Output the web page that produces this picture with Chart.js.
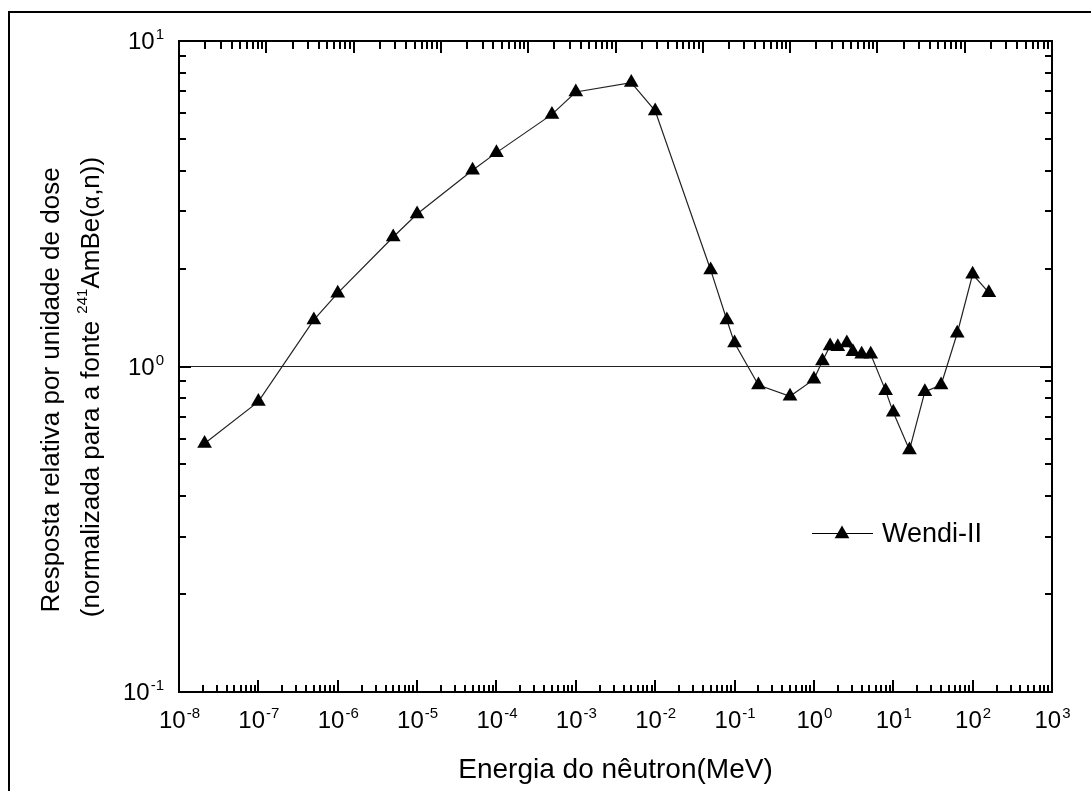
<!DOCTYPE html>
<html>
<head>
<meta charset="utf-8">
<script src="https://cdn.jsdelivr.net/npm/chart.js@4.4.1/dist/chart.umd.min.js"></script>
<style>
  html, body { margin: 0; padding: 0; background: #fff; overflow: hidden; }
  #wrap { width: 1091px; height: 791px; }
</style>
</head>
<body>
<div id="wrap"><canvas id="chart" width="1091" height="791"></canvas></div>
<script>
// neutron energy (MeV) and relative response per unit dose
const energy = [2.1e-8, 1e-7, 5e-7, 1e-6, 5e-6, 1e-5, 5e-5, 1e-4, 5e-4, 1e-3, 5e-3, 1e-2,
  5e-2, 8e-2, 0.1, 0.2, 0.5, 1, 1.28, 1.6, 2, 2.6, 3.1, 4, 5.2, 8, 10, 16, 25, 40, 64, 100, 160];
const response = [0.58, 0.78, 1.39, 1.68, 2.5, 2.94, 4.01, 4.54, 5.95, 6.97, 7.45, 6.1,
  1.98, 1.39, 1.18, 0.877, 0.81, 0.913, 1.04, 1.156, 1.15, 1.18, 1.11, 1.09, 1.09, 0.843, 0.723, 0.554, 0.837, 0.877, 1.265, 1.92, 1.686];
const seriesLabel = 'Wendi-II';

// reference line at response = 1
const refEnergy = [1e-8, 1e3];
const refResponse = [1, 1];

// tick labels (powers of ten)
const xTickExps = [-8, -7, -6, -5, -4, -3, -2, -1, 0, 1, 2, 3];
const yTickExps = [-1, 0, 1];
// the mirrored top axis in the original spans one decade less
const topAxisRange = [1e-7, 1e3];

const xTitle = 'Energia do nêutron(MeV)';
const yTitle1 = 'Resposta relativa por unidade de dose';
const yTitle2 = [['(normalizada para a fonte ', 'n'], ['241', 'sup'], ['AmBe(', 'n'], ['\u03b1', 'greek'], [',n))', 'n']];

const FONT = '"Liberation Sans", Arial, sans-serif';

function logTicks(min, max) {
  const out = [];
  for (let e = Math.floor(Math.log10(min)); e <= Math.ceil(Math.log10(max)); e++) {
    for (let m = 1; m <= 9; m++) {
      const v = m * Math.pow(10, e);
      if (v >= min * 0.999 && v <= max * 1.001) out.push({ v: v, major: m === 1 });
    }
  }
  return out;
}

function drawPow(ctx, exp, x, baseline, align) {
  ctx.font = '24px ' + FONT;
  const wBase = ctx.measureText('10').width;
  ctx.font = '15px ' + FONT;
  const wExp = ctx.measureText(String(exp)).width;
  const left = align === 'center' ? x - (wBase + wExp) / 2 : x - wBase - wExp;
  ctx.textAlign = 'left';
  ctx.textBaseline = 'alphabetic';
  ctx.font = '24px ' + FONT;
  ctx.fillText('10', left, baseline);
  ctx.font = '15px ' + FONT;
  ctx.fillText(String(exp), left + wBase + 1, baseline - 10);
}

function pieceFont(kind) {
  if (kind === 'sup') return '15px ' + FONT;
  if (kind === 'greek') return '23px ' + FONT;
  return '26px ' + FONT;
}

const originAxes = {
  id: 'originAxes',
  afterDraw(chart) {
    const ctx = chart.ctx;
    const a = chart.chartArea;
    const xs = chart.scales.x, xt = chart.scales.xTop, ys = chart.scales.y;
    ctx.save();
    ctx.strokeStyle = '#000';
    ctx.fillStyle = '#000';

    // outer frame
    ctx.lineWidth = 2;
    ctx.beginPath();
    ctx.moveTo(9, 800); ctx.lineTo(9, 12); ctx.lineTo(1100, 12);
    ctx.stroke();

    // plot box
    ctx.strokeRect(a.left, a.top, a.right - a.left, a.bottom - a.top);

    // inward ticks on all four sides
    ctx.beginPath();
    logTicks(xs.min, xs.max).forEach(t => {
      const px = Math.round(xs.getPixelForValue(t.v));
      ctx.moveTo(px, a.bottom); ctx.lineTo(px, a.bottom - (t.major ? 12 : 7));
    });
    logTicks(xt.min, xt.max).forEach(t => {
      const px = Math.round(xt.getPixelForValue(t.v));
      ctx.moveTo(px, a.top); ctx.lineTo(px, a.top + (t.major ? 12 : 8));
    });
    logTicks(ys.min, ys.max).forEach(t => {
      const py = Math.round(ys.getPixelForValue(t.v));
      const len = t.major ? 12 : 7;
      ctx.moveTo(a.left, py); ctx.lineTo(a.left + len, py);
      ctx.moveTo(a.right, py); ctx.lineTo(a.right - len, py);
    });
    ctx.stroke();

    // tick labels
    xTickExps.forEach(e => {
      drawPow(ctx, e, xs.getPixelForValue(Math.pow(10, e)), a.bottom + 36, 'center');
    });
    yTickExps.forEach(e => {
      drawPow(ctx, e, a.left - 16, ys.getPixelForValue(Math.pow(10, e)) + 8, 'right');
    });

    // x title
    ctx.font = '28px ' + FONT;
    ctx.textAlign = 'center';
    ctx.textBaseline = 'alphabetic';
    ctx.fillText(xTitle, (a.left + a.right) / 2, 778);

    // y title, two rotated lines
    ctx.save();
    ctx.translate(59, 390);
    ctx.rotate(-Math.PI / 2);
    ctx.font = '26px ' + FONT;
    ctx.textAlign = 'center';
    ctx.fillText(yTitle1, 0, 0);
    ctx.restore();

    ctx.save();
    ctx.translate(99, 387);
    ctx.rotate(-Math.PI / 2);
    ctx.textAlign = 'left';
    let total = 0;
    yTitle2.forEach(p => { ctx.font = pieceFont(p[1]); total += ctx.measureText(p[0]).width; });
    let cx = -total / 2;
    yTitle2.forEach(p => {
      ctx.font = pieceFont(p[1]);
      ctx.fillText(p[0], cx, p[1] === 'sup' ? -12 : 0);
      cx += ctx.measureText(p[0]).width;
    });
    ctx.restore();

    // legend
    const ly = 533;
    ctx.lineWidth = 1;
    ctx.beginPath();
    ctx.moveTo(812, ly + 0.5); ctx.lineTo(873, ly + 0.5);
    ctx.stroke();
    const r = 8.5, lx = 842, lcy = 534;
    ctx.beginPath();
    ctx.moveTo(lx, lcy - r);
    ctx.lineTo(lx + r * Math.sqrt(3) / 2, lcy + r / 2);
    ctx.lineTo(lx - r * Math.sqrt(3) / 2, lcy + r / 2);
    ctx.closePath();
    ctx.fill();
    ctx.font = '27px ' + FONT;
    ctx.textAlign = 'left';
    ctx.fillText(seriesLabel, 882, 542);

    ctx.restore();
  }
};

new Chart(document.getElementById('chart'), {
  type: 'scatter',
  data: {
    datasets: [
      {
        label: seriesLabel,
        data: energy.map((e, i) => ({ x: e, y: response[i] })),
        showLine: true,
        borderColor: '#222',
        borderWidth: 1.2,
        backgroundColor: '#000',
        pointStyle: 'triangle',
        pointRadius: 8.5,
        pointBorderWidth: 0,
        tension: 0
      },
      {
        label: 'ref',
        data: refEnergy.map((e, i) => ({ x: e, y: refResponse[i] })),
        showLine: true,
        borderColor: '#222',
        borderWidth: 1.2,
        pointRadius: 0
      }
    ]
  },
  options: {
    responsive: false,
    animation: false,
    devicePixelRatio: 1,
    layout: { padding: { left: 179, top: 41, right: 39, bottom: 99 } },
    plugins: { legend: { display: false }, tooltip: { enabled: false } },
    scales: {
      x: { type: 'logarithmic', min: 1e-8, max: 1e3, display: false },
      xTop: { type: 'logarithmic', axis: 'x', position: 'top', min: topAxisRange[0], max: topAxisRange[1], display: false },
      y: { type: 'logarithmic', min: 0.1, max: 10, display: false }
    }
  },
  plugins: [originAxes]
});
</script>
</body>
</html>
